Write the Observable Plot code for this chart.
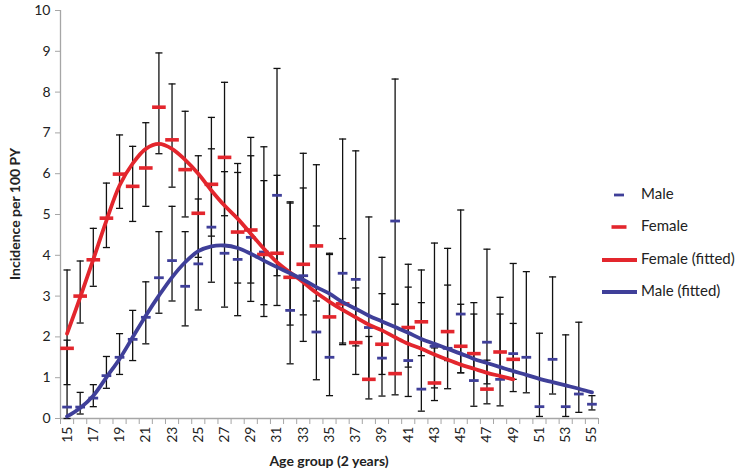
<!DOCTYPE html>
<html><head><meta charset="utf-8">
<script src="https://cdn.jsdelivr.net/npm/d3@7"></script>
<script src="https://cdn.jsdelivr.net/npm/@observablehq/plot@0.6"></script>
<style>body{margin:0;background:#fff}</style>
</head><body><div id="chart"></div>
<script>
// Age groups (2-year)
const maleAges = [15,16,17,18,19,20,21,22,23,24,25,26,27,28,29,30,31,32,33,34,35,36,37,38,39,40,41,42,43,44,45,46,47,48,49,50,51,52,53,54,55];
const maleRate = [0.28,0.28,0.50,1.05,1.50,1.94,2.48,3.45,3.87,3.24,3.79,4.69,4.05,3.90,4.44,4.08,5.47,2.65,3.50,2.12,1.50,3.56,3.41,2.23,1.48,4.84,1.42,0.72,1.77,1.72,2.56,0.93,1.87,0.96,1.59,1.50,0.29,1.45,0.29,0.60,0.35];
const maleLo = [0,0.11,0.29,0.74,1.08,1.42,1.83,2.58,2.88,2.27,2.66,3.34,2.73,2.52,2.87,2.50,3.50,1.34,1.89,0.95,0.56,1.85,1.78,0.96,0.55,2.80,0.54,0.18,0.75,0.73,1.12,0.30,0.85,0.31,0.66,0.63,0.05,0.60,0.05,0.15,0.21];
const maleHi = [1.92,0.64,0.83,1.52,2.08,2.65,3.35,4.58,5.20,4.58,5.38,6.61,6.05,6.03,6.89,6.66,8.58,5.31,5.65,4.72,4.02,6.85,6.56,4.94,3.95,8.32,3.22,2.84,4.30,4.17,5.11,2.56,4.15,2.97,3.80,3.60,2.09,3.47,2.05,2.36,0.56];
const maleFit = [0.05,0.26,0.56,1.01,1.46,1.99,2.52,3.01,3.46,3.83,4.10,4.22,4.24,4.18,4.04,3.87,3.71,3.56,3.40,3.22,3.06,2.85,2.69,2.52,2.38,2.24,2.10,1.95,1.83,1.71,1.59,1.46,1.36,1.26,1.16,1.07,0.97,0.89,0.81,0.73,0.64];

const femaleAges = [15,16,17,18,19,20,21,22,23,24,25,26,27,28,29,30,31,32,33,34,35,36,37,38,39,40,41,42,43,44,45,46,47,48,49];
const femaleRate = [1.72,3.00,3.89,4.91,5.99,5.69,6.14,7.63,6.83,6.10,5.03,5.74,6.40,4.57,4.62,4.02,4.05,3.46,3.78,4.23,2.49,2.81,1.86,0.96,1.82,1.10,2.23,2.37,0.87,2.13,1.77,1.59,0.72,1.63,1.45];
const femaleLo = [0.83,2.34,3.24,4.19,5.15,4.83,5.20,6.49,5.67,4.94,3.95,4.47,4.97,3.32,3.32,2.79,2.77,2.29,2.54,2.88,1.50,1.81,1.08,0.48,1.08,0.58,1.26,1.54,0.44,1.42,1.12,0.93,0.36,0.96,0.96];
const femaleHi = [3.64,3.86,4.66,5.77,6.95,6.67,7.25,8.96,8.20,7.53,6.44,7.38,8.24,6.25,6.44,5.83,5.96,5.28,6.50,6.22,4.05,4.41,3.20,2.01,3.06,2.80,3.78,3.64,1.73,3.27,2.80,2.84,1.43,2.56,2.33];
const femaleFit = [2.08,2.97,3.90,4.85,5.71,6.25,6.61,6.73,6.61,6.34,6.00,5.59,5.22,4.90,4.53,4.16,3.83,3.58,3.34,3.08,2.86,2.66,2.48,2.30,2.16,1.99,1.83,1.71,1.57,1.44,1.32,1.22,1.12,1.04,0.96];

const yTicks = [0,1,2,3,4,5,6,7,8,9,10];
const xLabelAges = [15,17,19,21,23,25,27,29,31,33,35,37,39,41,43,45,47,49,51,53,55];
const legendLabels = ["Male","Female","Female (fitted)","Male (fitted)"];

const maleColor = "#3f3f99", femaleColor = "#e3262d";
const male = maleAges.map((a,i)=>({age:a, v:maleRate[i], lo:maleLo[i], hi:maleHi[i], fit:maleFit[i]}));
const female = femaleAges.map((a,i)=>({age:a, v:femaleRate[i], lo:femaleLo[i], hi:femaleHi[i], fit:femaleFit[i]}));
const bounds = d3.range(maleAges[0]-0.5, maleAges[maleAges.length-1]+1, 1);

function errorMarks(data){
  return [
    Plot.ruleX(data, {x:"age", y1:"lo", y2:"hi", stroke:"#111", strokeWidth:1.3}),
    Plot.link(data, {x1:d=>d.age-0.27, x2:d=>d.age+0.27, y1:"hi", y2:"hi", stroke:"#111", strokeWidth:1.3}),
    Plot.link(data, {x1:d=>d.age-0.27, x2:d=>d.age+0.27, y1:"lo", y2:"lo", stroke:"#111", strokeWidth:1.3})
  ];
}

const chart = Plot.plot({
  width:750, height:476,
  marginLeft:60, marginRight:152, marginTop:10, marginBottom:58,
  style:{fontFamily:"Lato, 'Open Sans', sans-serif", fontSize:"14px", background:"#fff", color:"#000"},
  x:{type:"linear", domain:[bounds[0], bounds[bounds.length-1]], axis:null},
  y:{domain:[0,10], axis:null},
  marks:[
    Plot.axisY(yTicks, {tickSize:5, tickPadding:5, stroke:"#a6a6a6", fill:"#222", fontSize:14, label:null}),
    Plot.axisX(bounds, {tickSize:6, tickFormat:()=>"", stroke:"#a6a6a6", label:null}),
    Plot.axisX(xLabelAges, {tickSize:0, tickPadding:8, tickRotate:-90, fill:"#222", fontSize:14, label:null}),
    Plot.ruleX([bounds[0]], {stroke:"#a6a6a6", strokeWidth:1.3}),
    Plot.ruleY([0], {stroke:"#a6a6a6", strokeWidth:1.3}),
    ...errorMarks(male),
    ...errorMarks(female),
    Plot.link(male, {x1:d=>d.age-0.37, x2:d=>d.age+0.37, y1:"v", y2:"v", stroke:maleColor, strokeWidth:2.8}),
    Plot.link(female, {x1:d=>d.age-0.52, x2:d=>d.age+0.52, y1:"v", y2:"v", stroke:femaleColor, strokeWidth:3.6}),
    Plot.line(female, {x:"age", y:"fit", stroke:femaleColor, strokeWidth:3.8, curve:"catmull-rom"}),
    Plot.line(male, {x:"age", y:"fit", stroke:maleColor, strokeWidth:3.8, curve:"catmull-rom"})
  ]
});

const svg = d3.select(chart);
svg.append("text").attr("transform","translate(16,214) rotate(-90)").attr("text-anchor","middle")
  .attr("dominant-baseline","middle").attr("font-weight","bold").attr("font-size",14).attr("fill","#222")
  .text("Incidence per 100 PY");
svg.append("text").attr("x",329).attr("y",466).attr("text-anchor","middle")
  .attr("font-weight","bold").attr("font-size",14).attr("fill","#222").text("Age group (2 years)");

const lg = svg.append("g");
const ly = [195,227,260,292];
const kinds = [
  {type:"dash", color:maleColor, w:10, sw:2.8},
  {type:"dash", color:femaleColor, w:15, sw:3.6},
  {type:"line", color:femaleColor},
  {type:"line", color:maleColor}
];
legendLabels.forEach((t,i)=>{
  const k = kinds[i];
  if(k.type==="dash"){
    lg.append("line").attr("x1",619-k.w/2).attr("x2",619+k.w/2).attr("y1",ly[i]).attr("y2",ly[i])
      .attr("stroke",k.color).attr("stroke-width",k.sw);
  } else {
    lg.append("line").attr("x1",602).attr("x2",637).attr("y1",ly[i]).attr("y2",ly[i])
      .attr("stroke",k.color).attr("stroke-width",3.8);
  }
  lg.append("text").attr("x",641).attr("y",ly[i]).attr("text-anchor","start").attr("dominant-baseline","middle")
    .attr("font-size",15).attr("fill","#222").text(t);
});

document.getElementById("chart").appendChild(chart);
</script>
</body></html>
